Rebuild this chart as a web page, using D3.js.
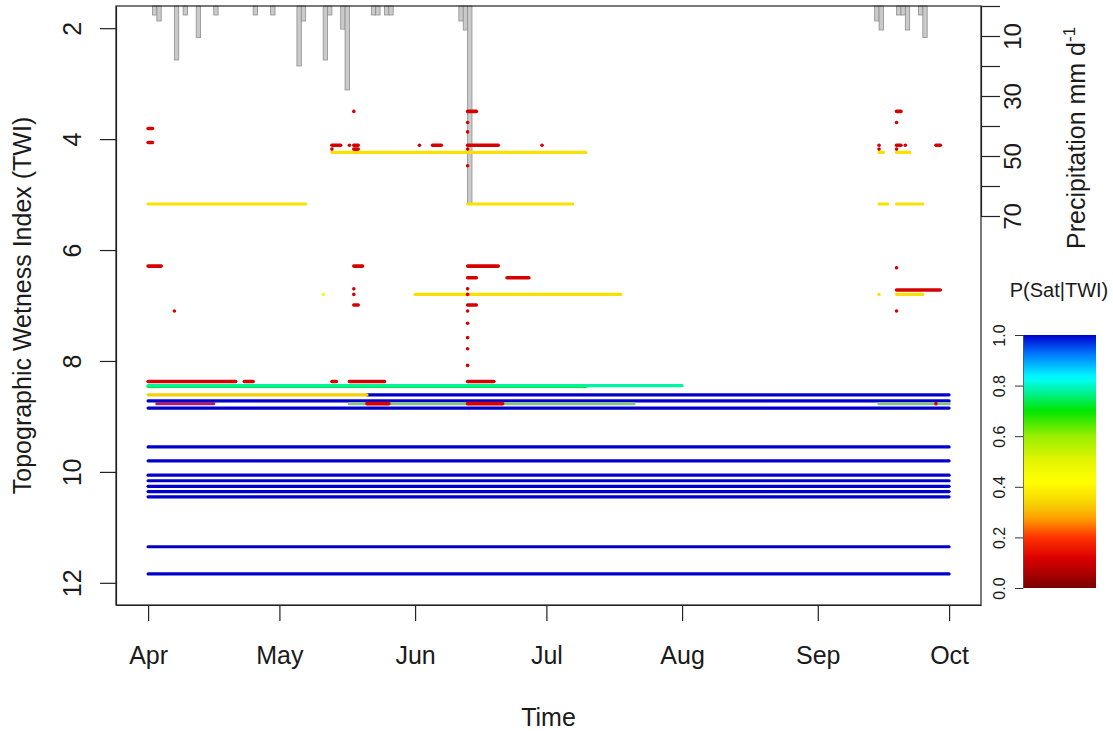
<!DOCTYPE html>
<html>
<head>
<meta charset="utf-8">
<script src="https://cdn.jsdelivr.net/npm/d3@7/dist/d3.min.js"></script>
<style>
  body { margin: 0; background: #fff; }
  svg text { font-family: "Liberation Sans", Arial, sans-serif; fill: #1a1a1a; }
</style>
</head>
<body>
<svg id="graphe" width="1113" height="731"></svg>
<script>
// annee de la saison (non lisible sur la figure)
const annee = 2013;

// axes
const moisTicks = ["04-01", "05-01", "06-01", "07-01", "08-01", "09-01", "10-01"];
const moisLabels = ["Apr", "May", "Jun", "Jul", "Aug", "Sep", "Oct"];
const twiTicks = [2, 4, 6, 8, 10, 12];
const pluieTicks = [0, 10, 20, 30, 40, 50, 60, 70];
const pluieLabels = ["", "10", "", "30", "", "50", "", "70"];
const probTicks = [0, 0.2, 0.4, 0.6, 0.8, 1.0];

// pluie journaliere (mm/j)
const joursPluie = ["04-02", "04-03", "04-07", "04-09", "04-12", "04-16", "04-25", "04-29",
  "05-05", "05-06", "05-11", "05-12", "05-15", "05-16", "05-22", "05-23", "05-25", "05-26",
  "06-11", "06-12", "06-13", "09-14", "09-15", "09-19", "09-20", "09-21", "09-24", "09-25"];
const pluieMm = [3, 5, 18, 3, 10.5, 3, 3, 3,
  20, 5, 18, 3, 7.7, 28, 3, 3, 3, 3,
  5, 8, 66, 5, 8, 3, 3, 8, 3, 10.5];

// classes TWI saturees toute la saison, P = 1
const niveauxSatures = [8.72, 8.85, 9.55, 9.80, 10.06, 10.16, 10.26, 10.355, 10.45, 11.35, 11.84];

// segments [twi, debut, fin, P(Sat|TWI)]
const segmentsBleus = [[8.61, "05-21", "10-01", 1]];
const segmentsVerts = [
  [8.46, "04-01", "07-10", 0.70],
  [8.445, "04-01", "08-01", 0.78]
];
const segmentsJaunes = [
  [8.61, "04-01", "05-21", 0.33],
  [4.24, "05-13", "07-10", 0.36],
  [5.17, "04-01", "05-07", 0.36],
  [5.17, "06-13", "07-07", 0.36],
  [6.80, "06-01", "07-18", 0.36],
  [6.80, "05-11", "05-11", 0.44],
  [4.24, "09-15", "09-16", 0.36],
  [4.24, "09-19", "09-22", 0.36],
  [5.17, "09-15", "09-17", 0.36],
  [5.17, "09-19", "09-25", 0.36],
  [6.80, "09-15", "09-15", 0.36],
  [6.80, "09-19", "09-25", 0.36]
];
const segmentsRouges = [
  [3.81, "04-01", "04-02", 0.11], [4.06, "04-01", "04-02", 0.11],
  [6.29, "04-01", "04-04", 0.11], [7.10, "04-07", "04-07", 0.11],
  [8.37, "04-01", "04-21", 0.11], [8.37, "04-23", "04-25", 0.11],
  [4.11, "05-13", "05-15", 0.11], [4.18, "05-13", "05-13", 0.11],
  [4.11, "05-17", "05-17", 0.11], [4.11, "05-18", "05-19", 0.11],
  [4.18, "05-18", "05-19", 0.11], [3.50, "05-18", "05-18", 0.11],
  [6.29, "05-18", "05-20", 0.11], [6.70, "05-18", "05-18", 0.11],
  [6.80, "05-18", "05-18", 0.11], [6.99, "05-18", "05-19", 0.11],
  [8.37, "05-13", "05-14", 0.11], [8.37, "05-17", "05-25", 0.11],
  [4.11, "06-02", "06-02", 0.11], [4.11, "06-05", "06-07", 0.11],
  [3.50, "06-13", "06-15", 0.11], [3.70, "06-13", "06-13", 0.11],
  [3.87, "06-13", "06-13", 0.11], [4.11, "06-13", "06-20", 0.11],
  [4.18, "06-13", "06-13", 0.11], [4.48, "06-13", "06-13", 0.11],
  [6.29, "06-13", "06-20", 0.11], [6.50, "06-13", "06-15", 0.11],
  [6.50, "06-22", "06-27", 0.11], [6.70, "06-13", "06-13", 0.11],
  [6.80, "06-13", "06-13", 0.11], [6.99, "06-13", "06-15", 0.11],
  [7.10, "06-13", "06-13", 0.11], [7.32, "06-13", "06-13", 0.11],
  [7.58, "06-13", "06-13", 0.11], [7.78, "06-13", "06-13", 0.11],
  [8.08, "06-13", "06-13", 0.11], [8.37, "06-13", "06-19", 0.11],
  [4.11, "06-30", "06-30", 0.11],
  [4.11, "09-15", "09-15", 0.11], [4.18, "09-15", "09-15", 0.11],
  [3.50, "09-19", "09-20", 0.11], [3.70, "09-19", "09-19", 0.11],
  [4.11, "09-19", "09-20", 0.11], [4.11, "09-21", "09-21", 0.11],
  [4.18, "09-19", "09-19", 0.11], [4.11, "09-28", "09-29", 0.11],
  [6.32, "09-19", "09-19", 0.11], [6.72, "09-19", "09-29", 0.11],
  [7.10, "09-19", "09-19", 0.11],
  [8.77, "05-21", "05-26", 0.11], [8.77, "06-13", "06-21", 0.11],
  [8.77, "09-28", "09-28", 0.11]
];
// segments superposes (couleurs melangees sur la figure)
const segmentsViolets = [[8.77, "04-03", "04-16"]];
const segmentsGris = [[8.77, "05-17", "07-21"], [8.77, "09-15", "10-01"]];

// palette de la barre de couleur
const paletteP = [0, 0.12, 0.2, 0.27, 0.33, 0.42, 0.5, 0.6, 0.7, 0.77, 0.83, 0.92, 1.0];
const paletteCouleurs = ["#7a0000", "#dd0000", "#ff3300", "#ff9900", "#f5d000", "#ffff00",
  "#e6f500", "#99ee00", "#00e600", "#00f090", "#00ffff", "#0080ff", "#0000cd"];

var marge = {haut: 6, droite: 981, bas: 605, gauche: 116};

const jour = s => new Date(annee, +s.slice(0, 2) - 1, +s.slice(3, 5));

const svg = d3.select("#graphe");

var x = d3.scaleTime()
  .domain([d3.timeHour.offset(jour("04-01"), -7.32 * 24), d3.timeHour.offset(jour("10-01"), 7.32 * 24)])
  .range([marge.gauche, marge.droite]);
var y = d3.scaleLinear().domain([1.6, 12.4]).range([marge.haut, marge.bas]);
var yPluie = d3.scaleLinear().domain([0, 70]).range([6, 216]);
var yProb = d3.scaleLinear().domain([0, 1]).range([588, 335]);
var couleur = d3.scaleLinear().domain(paletteP).range(paletteCouleurs).interpolate(d3.interpolateRgb);

/**
 * barres de pluie (depuis le haut)
 */
svg.append("g").selectAll("rect").data(joursPluie).enter().append("rect")
  .attr("x", d => x(jour(d)))
  .attr("width", d => x(d3.timeDay.offset(jour(d), 1)) - x(jour(d)))
  .attr("y", yPluie(0))
  .attr("height", (d, i) => yPluie(pluieMm[i]) - yPluie(0))
  .style("fill", "#cacaca")
  .style("stroke", "#8e8e8e")
  .style("stroke-width", 0.8);

/**
 * segments horizontaux
 */
function dessinerSegments(liste, couleurFn, epaisseur) {
  svg.append("g").selectAll("line").data(liste).enter().append("line")
    .attr("x1", d => x(jour(d[1])))
    .attr("x2", d => x(jour(d[2])))
    .attr("y1", d => y(d[0]))
    .attr("y2", d => y(d[0]))
    .style("stroke", couleurFn)
    .style("stroke-width", epaisseur)
    .style("stroke-linecap", "round");
}

dessinerSegments(niveauxSatures.map(t => [t, "04-01", "10-01", 1]), d => couleur(d[3]), 3.2);
dessinerSegments(segmentsBleus, d => couleur(d[3]), 3.2);
dessinerSegments(segmentsVerts, d => couleur(d[3]), 3.2);
dessinerSegments(segmentsJaunes, d => couleur(d[3]), 3.2);
dessinerSegments(segmentsViolets, "#a0207a", 3.2);
dessinerSegments(segmentsGris, "#8cbf8c", 3.2);
dessinerSegments(segmentsRouges, d => couleur(d[3]), 3.6);

/**
 * cadre et axes
 */
svg.append("rect")
  .attr("x", marge.gauche).attr("y", marge.haut)
  .attr("width", marge.droite - marge.gauche).attr("height", marge.bas - marge.haut)
  .style("fill", "none").style("stroke", "#222").style("stroke-width", 1.2);

var axeY = svg.append("g").attr("transform", `translate(${marge.gauche},0)`)
  .call(d3.axisLeft(y).tickValues(twiTicks).tickSize(16).tickSizeOuter(0).tickFormat(d3.format("d")));
axeY.selectAll("text")
  .attr("x", 0).attr("y", -35).attr("dy", null)
  .attr("transform", "rotate(-90)")
  .style("text-anchor", "middle").style("font-size", "25px");

var axeX = svg.append("g").attr("transform", `translate(0,${marge.bas})`)
  .call(d3.axisBottom(x).tickValues(moisTicks.map(jour)).tickSize(16).tickSizeOuter(0)
    .tickFormat((d, i) => moisLabels[i]));
axeX.selectAll("text").attr("y", 59).attr("dy", null).style("font-size", "25px");

var axePluie = svg.append("g").attr("transform", `translate(${marge.droite},0)`)
  .call(d3.axisRight(yPluie).tickValues(pluieTicks).tickSize(19).tickSizeOuter(0)
    .tickFormat((d, i) => pluieLabels[i]));
axePluie.selectAll("text")
  .attr("x", 0).attr("y", 40).attr("dy", null)
  .attr("transform", "rotate(-90)")
  .style("text-anchor", "middle").style("font-size", "24px");

[axeY, axeX, axePluie].forEach(a => {
  a.selectAll("line").style("stroke", "#222").style("stroke-width", 1.2);
  a.select(".domain").style("stroke", "#222").style("stroke-width", 1.2);
});

// titres
svg.append("text").attr("x", 548.5).attr("y", 726)
  .style("text-anchor", "middle").style("font-size", "25px").text("Time");
svg.append("text").attr("transform", "translate(31,305.5) rotate(-90)")
  .style("text-anchor", "middle").style("font-size", "25px").text("Topographic Wetness Index (TWI)");
var titrePluie = svg.append("text").attr("transform", "translate(1085,249) rotate(-90)")
  .style("text-anchor", "start").style("font-size", "25px");
titrePluie.append("tspan").text("Precipitation mm d");
titrePluie.append("tspan").attr("dy", -10).style("font-size", "17px").text("-1");

/**
 * barre de couleur P(Sat|TWI)
 */
var defs = svg.append("defs");
var grad = defs.append("linearGradient").attr("id", "degrade")
  .attr("x1", 0).attr("y1", 1).attr("x2", 0).attr("y2", 0);
grad.selectAll("stop").data(d3.range(0, 1.0001, 0.02)).enter().append("stop")
  .attr("offset", d => d)
  .attr("stop-color", d => couleur(d));

svg.append("rect")
  .attr("x", 1023).attr("y", yProb(1))
  .attr("width", 73).attr("height", yProb(0) - yProb(1))
  .style("fill", "url(#degrade)");

var axeProb = svg.append("g").attr("transform", "translate(1023,0)")
  .call(d3.axisLeft(yProb).tickValues(probTicks).tickSize(8).tickSizeOuter(0).tickFormat(d3.format(".1f")));
axeProb.selectAll("text")
  .attr("x", 0).attr("y", -18).attr("dy", null)
  .attr("transform", "rotate(-90)")
  .style("text-anchor", "middle").style("font-size", "16px");
axeProb.selectAll("line").style("stroke", "#333");
axeProb.select(".domain").style("stroke", "#555").style("stroke-width", 0.8);

svg.append("text").attr("x", 1059).attr("y", 297)
  .style("text-anchor", "middle").style("font-size", "20px").text("P(Sat|TWI)");
</script>
</body>
</html>
